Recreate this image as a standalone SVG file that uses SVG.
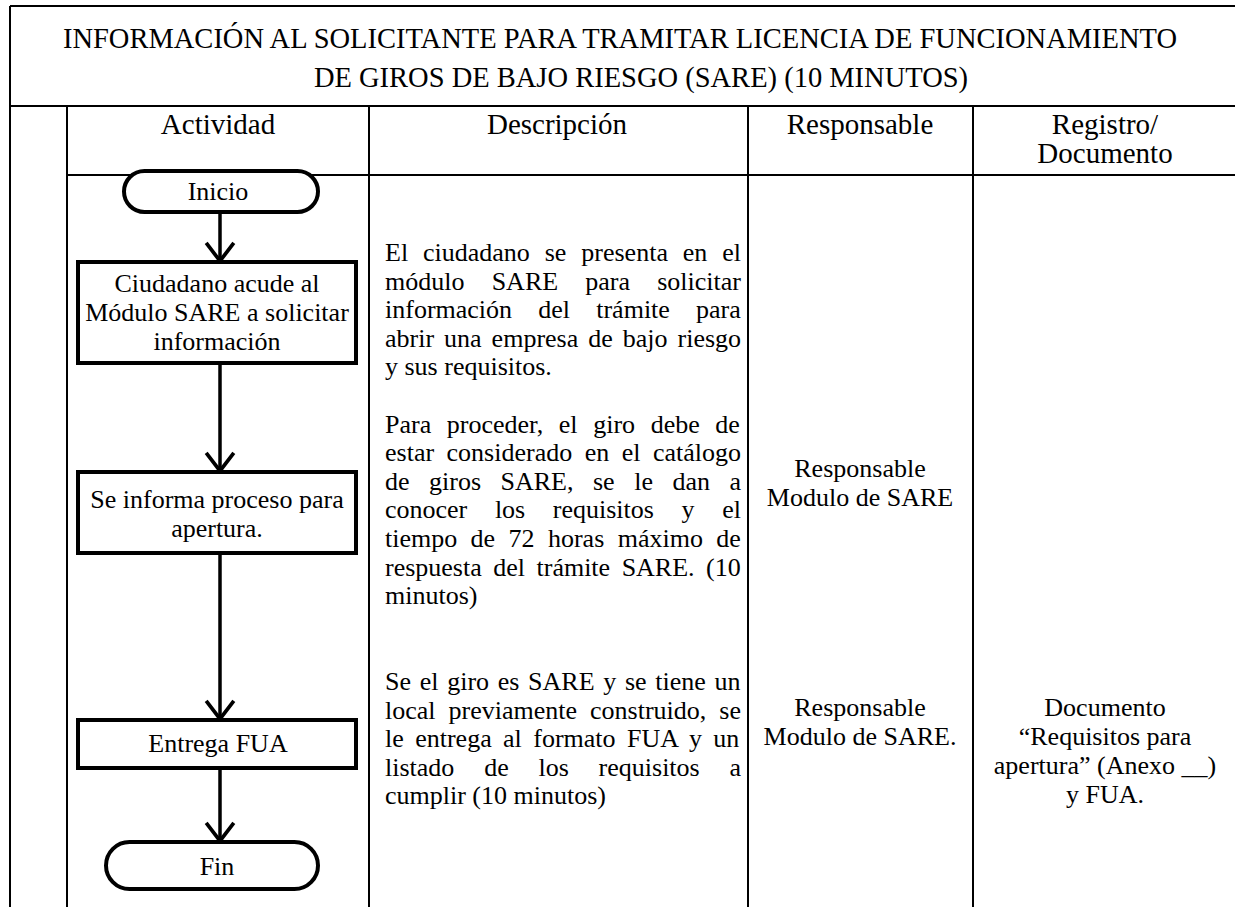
<svg xmlns="http://www.w3.org/2000/svg" width="1235" height="907" viewBox="0 0 1235 907">
<style>
.t{font-family:"Liberation Serif","Times New Roman",serif;fill:#000}
.title{font-size:28.5px;text-anchor:middle}
.hdr{font-size:29px;text-anchor:middle}
.flow{font-size:26px;text-anchor:middle}
.body{font-size:26px}
.cell{font-size:26px;text-anchor:middle}
.grid{stroke:#000;stroke-width:2;fill:none}
.shape{fill:#fff;stroke:#000;stroke-width:4}
.conn{stroke:#000;stroke-width:3.5;fill:none}
</style>
<defs>
<marker id="chev" markerUnits="userSpaceOnUse" markerWidth="30" markerHeight="34" viewBox="-2 -16 24 32" refX="18" refY="0" orient="auto">
<path d="M1,-13 L18,0 L1,13" fill="none" stroke="#000" stroke-width="3.5" stroke-linejoin="miter"/>
</marker>
</defs>
<rect width="1235" height="907" fill="#fff"/>
<g id="table" class="grid">
<line x1="10" y1="6" x2="1235" y2="6"/>
<line x1="10" y1="6" x2="10" y2="907"/>
<line x1="10" y1="106" x2="1235" y2="106"/>
<line x1="67" y1="106" x2="67" y2="907"/>
<line x1="67" y1="175" x2="1235" y2="175"/>
<line x1="369" y1="106" x2="369" y2="907"/>
<line x1="748" y1="106" x2="748" y2="907"/>
<line x1="973" y1="106" x2="973" y2="907"/>
</g>
<g id="title" class="t title">
<text x="620" y="48">INFORMACIÓN AL SOLICITANTE PARA TRAMITAR LICENCIA DE FUNCIONAMIENTO</text>
<text x="641" y="87">DE GIROS DE BAJO RIESGO (SARE) (10 MINUTOS)</text>
</g>
<g id="headers" class="t hdr">
<text x="218" y="134">Actividad</text>
<text x="557" y="134">Descripción</text>
<text x="860" y="134">Responsable</text>
<text x="1105" y="134">Registro/</text>
<text x="1105" y="163">Documento</text>
</g>
<g id="connectors">
<line class="conn" x1="220" y1="212" x2="220" y2="261" marker-end="url(#chev)"/>
<line class="conn" x1="220" y1="363" x2="220" y2="471" marker-end="url(#chev)"/>
<line class="conn" x1="220" y1="553" x2="220" y2="719" marker-end="url(#chev)"/>
<line class="conn" x1="220" y1="768" x2="220" y2="841" marker-end="url(#chev)"/>
</g>
<g id="inicio">
<rect class="shape" x="124" y="171" width="194" height="41" rx="20.5"/>
<text class="t flow" x="218" y="200">Inicio</text>
</g>
<g id="ciudadano">
<rect class="shape" x="78" y="262" width="278" height="101"/>
<text class="t flow" x="217" y="292">Ciudadano acude al</text>
<text class="t flow" x="217" y="321">Módulo SARE a solicitar</text>
<text class="t flow" x="217" y="350">información</text>
</g>
<g id="informa">
<rect class="shape" x="78" y="472" width="278" height="81"/>
<text class="t flow" x="217" y="508">Se informa proceso para</text>
<text class="t flow" x="217" y="537">apertura.</text>
</g>
<g id="entrega">
<rect class="shape" x="78" y="720" width="278" height="48"/>
<text class="t flow" x="218" y="752">Entrega FUA</text>
</g>
<g id="fin">
<rect class="shape" x="106" y="842" width="212" height="47" rx="23.5"/>
<text class="t flow" x="217" y="875">Fin</text>
</g>
<g id="descripcion" class="t body">
<text x="385" y="261" word-spacing="8.4">El ciudadano se presenta en el</text>
<text x="385" y="289.6" word-spacing="20.7">módulo SARE para solicitar</text>
<text x="385" y="318.2" word-spacing="19.7">información del trámite para</text>
<text x="385" y="346.8" word-spacing="3.5">abrir una empresa de bajo riesgo</text>
<text x="385" y="375.4">y sus requisitos.</text>
<text x="385" y="432.6" word-spacing="9.1">Para proceder, el giro debe de</text>
<text x="385" y="461.2" word-spacing="6">estar considerado en el catálogo</text>
<text x="385" y="489.8" word-spacing="13">de giros SARE, se le dan a</text>
<text x="385" y="518.4" word-spacing="21.1">conocer los requisitos y el</text>
<text x="385" y="547" word-spacing="6.9">tiempo de 72 horas máximo de</text>
<text x="385" y="575.6" word-spacing="5">respuesta del trámite SARE. (10</text>
<text x="385" y="604.2">minutos)</text>
<text x="385" y="690" word-spacing="2.2">Se el giro es SARE y se tiene un</text>
<text x="385" y="718.6" word-spacing="6.5">local previamente construido, se</text>
<text x="385" y="747.2" word-spacing="4.9">le entrega al formato FUA y un</text>
<text x="385" y="775.8" word-spacing="23.3">listado de los requisitos a</text>
<text x="385" y="804.4">cumplir (10 minutos)</text>
</g>
<g id="responsable" class="t cell">
<text x="860" y="477">Responsable</text>
<text x="860" y="506">Modulo de SARE</text>
<text x="860" y="716">Responsable</text>
<text x="860" y="745">Modulo de SARE.</text>
</g>
<g id="registro" class="t cell">
<text x="1105" y="716">Documento</text>
<text x="1105" y="745">“Requisitos para</text>
<text x="1105" y="774">apertura” (Anexo __)</text>
<text x="1105" y="803">y FUA.</text>
</g>
</svg>
